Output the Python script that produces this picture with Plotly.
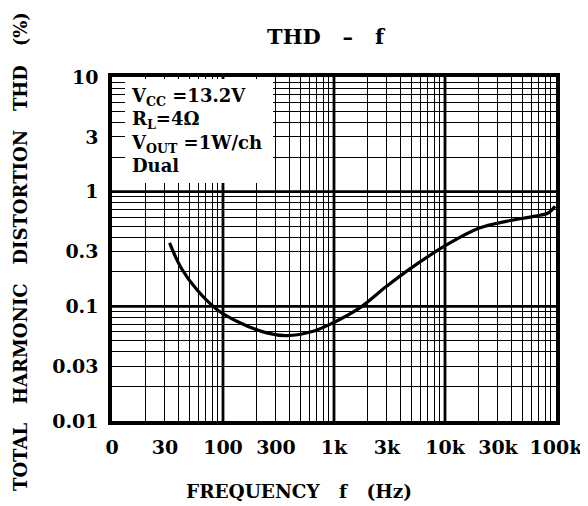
import plotly.graph_objects as go

# Data
freq_hz = [33, 42, 58, 88, 142, 247, 376, 650, 985, 1705, 2960, 5200,
           10400, 20400, 35600, 62600, 85000, 98000]
thd_pct = [0.357, 0.216, 0.14, 0.094, 0.072, 0.0587, 0.0556, 0.0607, 0.072,
           0.097, 0.149, 0.223, 0.345, 0.482, 0.551, 0.609, 0.652, 0.745]

x_tick_vals = [10, 30, 100, 300, 1000, 3000, 10000, 30000, 100000]
x_tick_text = ["0", "30", "100", "300", "1k", "3k", "10k", "30k", "100k"]
y_tick_vals = [0.01, 0.03, 0.1, 0.3, 1, 3, 10]
y_tick_text = ["0.01", "0.03", "0.1", "0.3", "1", "3", "10"]

x_decades = [10, 100, 1000, 10000, 100000]
y_decades = [0.01, 0.1, 1, 10]
x_minor = [d * m for d in x_decades[:-1] for m in range(2, 10)]
y_minor = [d * m for d in y_decades[:-1] for m in range(2, 10)]

FONT = "DejaVu Serif"
BLACK = "#000000"

# The page body adds an 8 px offset; plot area sits at 112..556 x 77..421 on screen
OFF = 8
L, R, T, B = 112 - OFF, 32, 77 - OFF, 85
W, H = 588 - OFF, 506 - OFF
PW, PH = 444, 344

fig = go.Figure()
fig.add_trace(go.Scatter(
    x=freq_hz, y=thd_pct, mode="lines",
    line=dict(color=BLACK, width=3.2, shape="spline", smoothing=1.0),
    hoverinfo="skip", showlegend=False,
))

tick_font = dict(family=FONT, size=19, color=BLACK, weight="bold")
fig.update_layout(
    width=W, height=H,
    margin=dict(l=L, r=R, t=T, b=B, autoexpand=False),
    paper_bgcolor="white", plot_bgcolor="white",
    showlegend=False,
    xaxis=dict(type="log", range=[1, 5], tickmode="array",
               tickvals=x_tick_vals, ticktext=x_tick_text, showgrid=False,
               zeroline=False, ticks="", ticklabelstandoff=6, automargin=False,
               showline=True, linecolor=BLACK, linewidth=3.5, mirror=True,
               tickfont=tick_font,
               minor=dict(tickmode="array", tickvals=x_minor, showgrid=True,
                          gridcolor=BLACK, gridwidth=1.1, ticks="")),
    yaxis=dict(type="log", range=[-2, 1], tickmode="array",
               tickvals=y_tick_vals, ticktext=y_tick_text, showgrid=False,
               zeroline=False, ticks="", ticklabelstandoff=6, automargin=False,
               showline=True, linecolor=BLACK, linewidth=3.5, mirror=True,
               tickfont=tick_font,
               minor=dict(tickmode="array", tickvals=y_minor, showgrid=True,
                          gridcolor=BLACK, gridwidth=1.1, ticks="")),
)

# Heavy decade grid lines
for xv in x_decades[1:-1]:
    fig.add_shape(type="line", xref="x", yref="paper", x0=xv, x1=xv, y0=0, y1=1,
                  line=dict(color=BLACK, width=2.8), layer="below")
for yv in y_decades[1:-1]:
    fig.add_shape(type="line", xref="paper", yref="y", x0=0, x1=1, y0=yv, y1=yv,
                  line=dict(color=BLACK, width=2.8), layer="below")


def px(xs):
    return (xs - 112) / PW


def py(ys):
    return (421 - ys) / PH


# Title
fig.add_annotation(
    text="THD&nbsp;&nbsp;&nbsp;–&nbsp;&nbsp;&nbsp;f", xref="paper", yref="paper",
    x=px(326), y=py(36), xanchor="center", yanchor="middle",
    showarrow=False, font=dict(family=FONT, size=21, color=BLACK, weight="bold"),
)
# X-axis title
fig.add_annotation(
    text="FREQUENCY&nbsp;&nbsp;&nbsp;f&nbsp;&nbsp;&nbsp;(Hz)", xref="paper", yref="paper",
    x=px(299), y=py(491), xanchor="center", yanchor="middle",
    showarrow=False, font=dict(family=FONT, size=18.5, color=BLACK, weight="bold"),
)
# Y-axis title
fig.add_annotation(
    text=("TOTAL&nbsp;&nbsp;&nbsp;HARMONIC&nbsp;&nbsp;&nbsp;DISTORTION"
          "&nbsp;&nbsp;&nbsp;THD&nbsp;&nbsp;&nbsp;(%)"),
    xref="paper", yref="paper", textangle=-90,
    x=px(20), y=py(252), xanchor="center", yanchor="middle",
    showarrow=False, font=dict(family=FONT, size=18, color=BLACK, weight="bold"),
)
# Condition box
fig.add_annotation(
    text=("V<sub>CC</sub> =13.2V<br>R<sub>L</sub>=4Ω<br>"
          "V<sub>OUT</sub> =1W/ch<br>Dual"),
    xref="paper", yref="paper",
    x=px(125), y=py(79), xanchor="left", yanchor="top",
    width=136, height=92, align="left", valign="top",
    bgcolor="white", borderpad=6, borderwidth=0,
    showarrow=False, font=dict(family=FONT, size=18, color=BLACK, weight="bold"),
)

fig.write_html("out.html")
